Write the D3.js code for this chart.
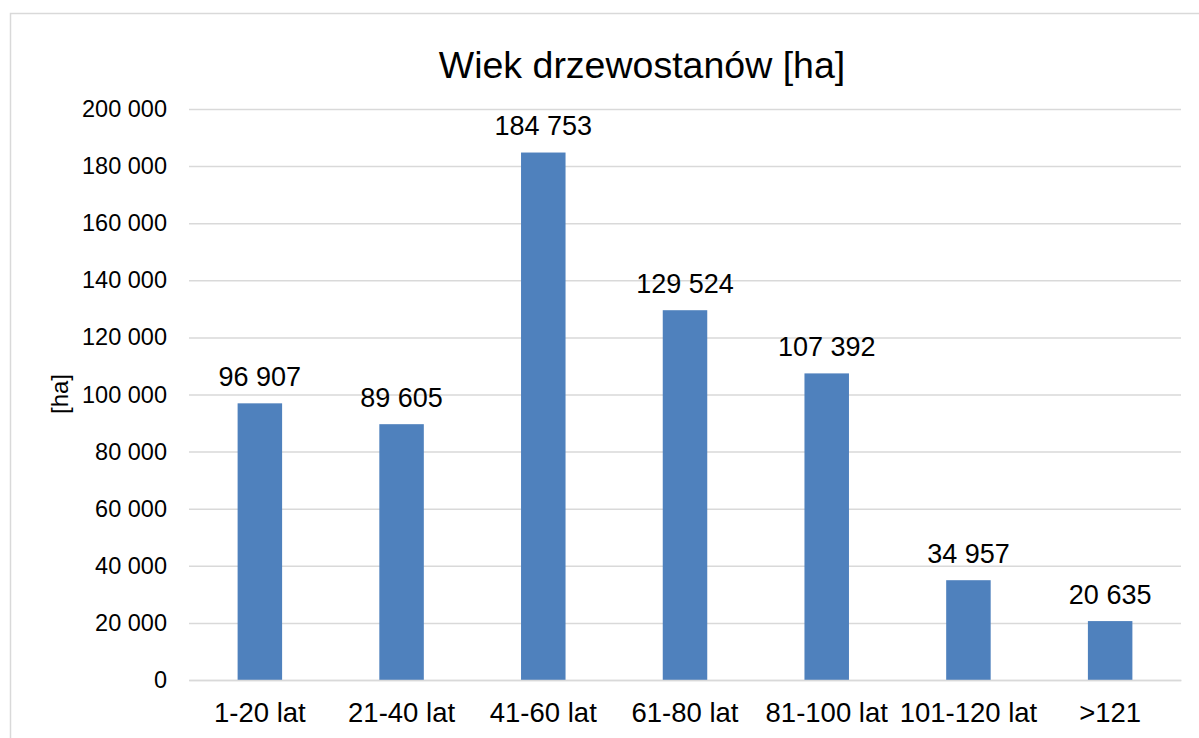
<!DOCTYPE html>
<html>
<head>
<meta charset="utf-8">
<script src="https://cdn.jsdelivr.net/npm/d3@7"></script>
<style>
  html, body { margin: 0; padding: 0; background: #fff; }
  svg { display: block; font-family: "Liberation Sans", Arial, sans-serif; }
</style>
</head>
<body>
<svg id="chart" width="1199" height="738"></svg>
<script>
// Forest stand area by age class
const categories = ["1-20 lat", "21-40 lat", "41-60 lat", "61-80 lat", "81-100 lat", "101-120 lat", ">121"];
const areaHa = [96907, 89605, 184753, 129524, 107392, 34957, 20635];
const yTicks = [0, 20000, 40000, 60000, 80000, 100000, 120000, 140000, 160000, 180000, 200000];

const title = "Wiek drzewostanów [ha]";
const yTitle = "[ha]";

const plot = { left: 189, right: 1181, top: 109, bottom: 680 };

const svg = d3.select("#chart");

// chart area frame
svg.append("rect")
  .attr("x", 10.5).attr("y", 13.5)
  .attr("width", 1200).attr("height", 740)
  .attr("fill", "#fff").attr("stroke", "#d9d9d9").attr("stroke-width", 1.5);

const x = d3.scaleBand().domain(categories).range([plot.left, plot.right]).paddingInner(0.686).paddingOuter(0.343);
const y = d3.scaleLinear().domain([0, 200000]).range([plot.bottom, plot.top]);

const fmt = v => d3.format(",")(v).replace(/,/g, " ");

// gridlines + y labels
const yAxis = d3.axisLeft(y).tickValues(yTicks).tickSize(-(plot.right - plot.left)).tickFormat(fmt).tickPadding(22);
const gy = svg.append("g").attr("transform", `translate(${plot.left},0)`).call(yAxis);
gy.select(".domain").remove();
gy.selectAll(".tick line").attr("stroke", "#d9d9d9").attr("stroke-width", 1.5);
gy.selectAll(".tick text").attr("fill", "#000").attr("font-size", 23.5).attr("font-family", "Liberation Sans, Arial, sans-serif");

// bars
svg.append("g").selectAll("rect")
  .data(areaHa)
  .join("rect")
  .attr("x", (d, i) => x(categories[i]))
  .attr("y", d => y(d))
  .attr("width", x.bandwidth())
  .attr("height", d => y(0) - y(d))
  .attr("fill", "#4f81bd");

// value labels
svg.append("g").selectAll("text")
  .data(areaHa)
  .join("text")
  .attr("x", (d, i) => x(categories[i]) + x.bandwidth() / 2)
  .attr("y", d => y(d) - 17.5)
  .attr("text-anchor", "middle")
  .attr("font-size", 27)
  .attr("fill", "#000")
  .text(fmt);

// x axis labels
const xAxis = d3.axisBottom(x).tickSize(0).tickPadding(22);
const gx = svg.append("g").attr("transform", `translate(0,${plot.bottom})`).call(xAxis);
gx.select(".domain").attr("stroke", "#d9d9d9").attr("stroke-width", 1.5);
gx.selectAll(".tick text").attr("fill", "#000").attr("font-size", 27.5).attr("font-family", "Liberation Sans, Arial, sans-serif");

// title
svg.append("text")
  .attr("x", 642).attr("y", 78)
  .attr("text-anchor", "middle")
  .attr("font-size", 37.5)
  .attr("fill", "#000")
  .text(title);

// y axis title
svg.append("text")
  .attr("transform", "translate(68,394) rotate(-90)")
  .attr("text-anchor", "middle")
  .attr("font-size", 24)
  .attr("fill", "#000")
  .text(yTitle);
</script>
</body>
</html>
